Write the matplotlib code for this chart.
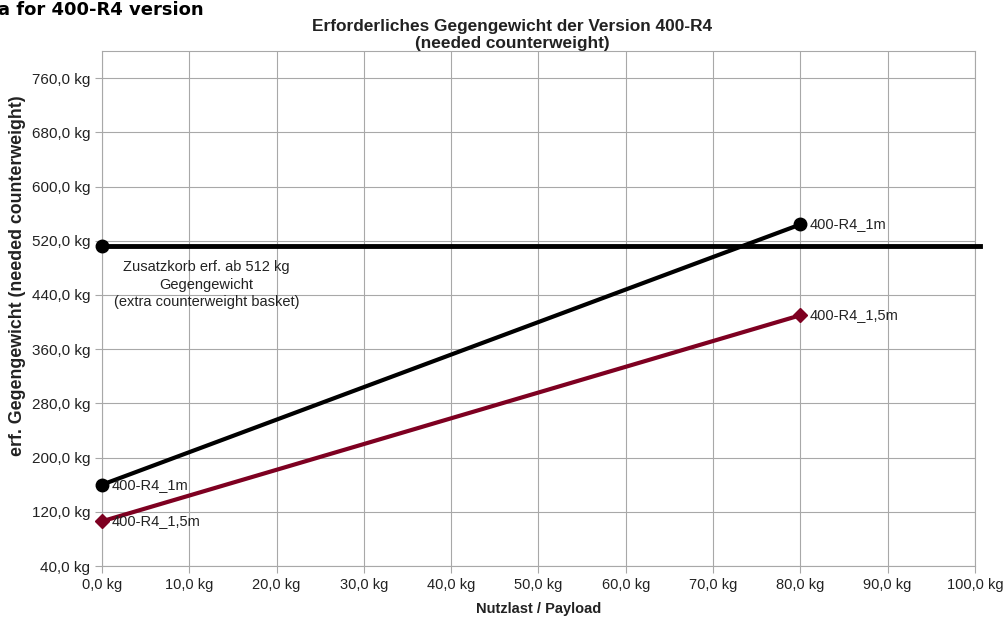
import matplotlib
matplotlib.use("Agg")
import matplotlib.pyplot as plt
from matplotlib.ticker import FuncFormatter, MultipleLocator

plt.rcParams['font.family'] = ['Liberation Sans', 'DejaVu Sans']

# data
payload = [0, 80]
cw_1m = [160, 544]
cw_15m = [106, 410]
series_names = ["400-R4_1m", "400-R4_1,5m"]
limit_x = [0, 100.6]
limit_y = [512, 512]
limit_text = "Zusatzkorb erf. ab 512 kg\nGegengewicht\n(extra counterweight basket)"

fig = plt.figure(figsize=(10.05, 6.19), dpi=100)
ax = fig.add_axes([0.1015, 0.0856, 0.8685, 0.832])
ax.set_xlim(0, 100)
ax.set_ylim(40, 800)

ax.xaxis.set_major_locator(MultipleLocator(10))
ax.set_yticks([40 + 80 * i for i in range(10)])
fmt = FuncFormatter(lambda v, p: f"{v:.1f}".replace(".", ",") + " kg")
ax.xaxis.set_major_formatter(fmt)
ax.yaxis.set_major_formatter(fmt)
ax.grid(True, color="#a8a8a8", lw=0.8)
ax.set_axisbelow(True)
for s in ax.spines.values():
    s.set_color("#a8a8a8")
    s.set_linewidth(0.8)
ax.tick_params(colors="#a8a8a8", length=5, width=0.8, labelcolor="#222222", labelsize=10.5)
ax.tick_params(axis="y", labelsize=11)

red = "#7e0021"
ax.plot(limit_x, limit_y, color="black", lw=3.5, clip_on=False, zorder=3)
ax.plot([limit_x[0]], [limit_y[0]], "o", color="black", ms=9, clip_on=False, zorder=5)
ax.plot(payload, cw_1m, "-o", color="black", lw=3, ms=9, clip_on=False, zorder=4)
ax.plot(payload, cw_15m, "-D", color=red, lw=3, ms=7, clip_on=False, zorder=4)

for x, y in zip(payload, cw_1m):
    ax.annotate(series_names[0], (x, y), xytext=(7, 0), textcoords="offset points",
                va="center", ha="left", fontsize=10.5, color="#222222", zorder=6)
for x, y in zip(payload, cw_15m):
    ax.annotate(series_names[1], (x, y), xytext=(7, 0), textcoords="offset points",
                va="center", ha="left", fontsize=10.5, color="#222222", zorder=6)

ax.text(12.0, 455, limit_text, ha="center", va="center", fontsize=10.5, color="#222222",
        linespacing=1.33)

ax.set_title("Erforderliches Gegengewicht der Version 400-R4\n(needed counterweight)",
             fontsize=12.4, fontweight="bold", color="#222222", pad=2, linespacing=1.2,
             x=0.47)
ax.set_xlabel("Nutzlast / Payload", fontsize=10.5, fontweight="bold", color="#222222", labelpad=7)
ax.set_ylabel("erf. Gegengewicht (needed counterweight)", fontsize=12.8, fontweight="bold",
              color="#222222", labelpad=7)
ax.yaxis.set_label_coords(-0.087, 0.563)

fig.text(-0.002, 0.998, "a for 400-R4 version", ha="left", va="top", fontsize=13,
         fontweight="bold", family=["DejaVu Sans"])

fig.savefig("out.png", dpi=100)
